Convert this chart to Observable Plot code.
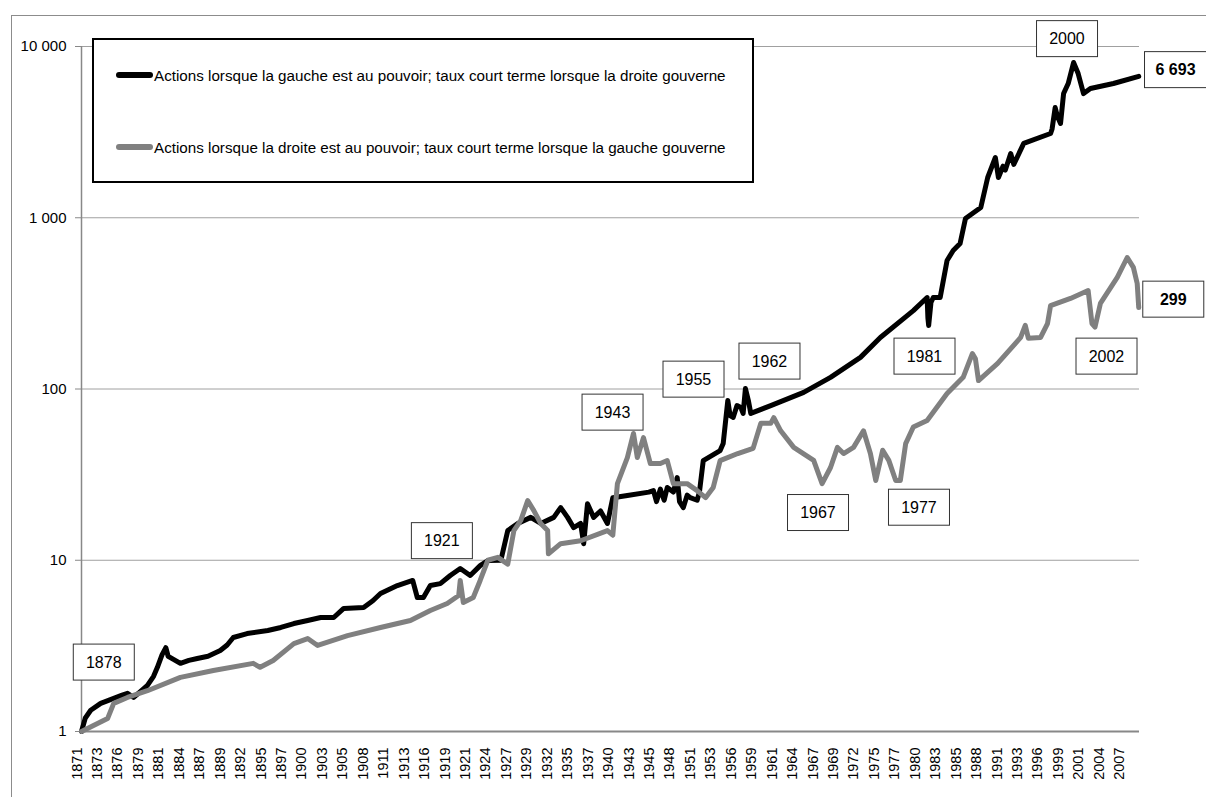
<!DOCTYPE html>
<html><head><meta charset="utf-8">
<script src="https://cdn.jsdelivr.net/npm/d3@7"></script>
<script src="https://cdn.jsdelivr.net/npm/@observablehq/plot@0.6"></script>
<style>
body{margin:0;background:#fff;font-family:"Liberation Sans",Arial,sans-serif;}
#wrap{position:relative;width:1206px;height:797px;overflow:hidden;background:#fff;}
#chart{position:absolute;left:0;top:0;}
#frame{position:absolute;left:11px;top:15px;width:1300px;height:900px;border:1px solid #8c8c8c;pointer-events:none;}
#legend{position:absolute;left:92px;top:38px;width:658px;height:141px;border:2px solid #000;background:#fff;}
.item{position:absolute;left:22px;height:20px;display:flex;align-items:center;font-size:15.2px;color:#000;white-space:nowrap;}
.swatch{width:37px;height:6px;border-radius:3px;margin-right:1px;}
</style></head>
<body>
<div id="wrap"><div id="chart"></div><div id="frame"></div><div id="legend"></div></div>
<script>
// ---- data ----
const seriesNames = [
  "Actions lorsque la gauche est au pouvoir; taux court terme lorsque la droite gouverne",
  "Actions lorsque la droite est au pouvoir; taux court terme lorsque la gauche gouverne"
];
const seriesColors = ["#000000", "#808080"];

// [year, value]
const blackSeries = [
[1871.0,1.0],[1871.5,1.2],[1872.2,1.33],[1873.5,1.46],[1875.2,1.56],[1876.3,1.63],[1877.0,1.67],[1877.8,1.58],
[1878.6,1.7],[1879.6,1.86],[1880.4,2.1],[1880.9,2.37],[1881.5,2.8],[1882.0,3.09],[1882.3,2.75],[1882.6,2.7],
[1883.9,2.5],[1885.0,2.6],[1886.1,2.67],[1887.5,2.75],[1889.1,2.97],[1890.0,3.2],[1890.8,3.54],[1892.6,3.73],
[1895.3,3.89],[1897.0,4.05],[1898.7,4.27],[1900.5,4.45],[1902.2,4.63],[1903.9,4.63],[1905.2,5.23],[1907.8,5.3],
[1909.0,5.8],[1910.0,6.4],[1912.2,7.12],[1914.2,7.62],[1914.8,6.06],[1915.6,6.06],[1916.5,7.12],[1917.8,7.3],
[1919.1,8.15],[1920.4,8.95],[1921.7,8.15],[1923.0,9.3],[1924.0,9.97],[1925.7,10.0],[1926.6,14.9],[1927.9,16.4],
[1929.6,17.8],[1930.9,16.4],[1932.6,17.8],[1933.5,20.3],[1934.4,17.8],[1935.2,15.5],[1936.1,16.4],[1936.5,12.5],
[1937.0,21.4],[1937.8,17.8],[1938.7,19.4],[1939.6,16.4],[1940.3,23.2],[1942.2,23.9],[1945.0,25],[1945.6,25.5],
[1946.0,22],[1946.5,26],[1947.0,22.4],[1947.4,26.6],[1948.2,25],[1948.7,30.4],[1949.0,22],[1949.5,20.3],
[1950.0,24],[1950.4,23.2],[1951.3,22.4],[1951.6,25],[1952.1,38.2],[1954.3,43.7],[1954.7,48],[1955.3,85.7],
[1955.6,70],[1956.0,68.2],[1956.5,80],[1957.0,78],[1957.3,72],[1957.6,100.7],[1958.0,85],[1958.3,72],
[1960.9,80],[1965.2,95.5],[1968.7,117],[1972.6,153],[1975.2,200],[1979.5,287],[1981.3,342],[1981.4,260],
[1981.5,235],[1981.8,320],[1982.1,342],[1983.0,342],[1983.9,563],[1984.7,644],[1985.6,707],[1986.3,990],
[1988.3,1148],[1989.2,1718],[1990.2,2248],[1990.6,1718],[1991.2,2000],[1991.5,1900],[1992.2,2371],[1992.6,2050],
[1993.9,2716],[1997.4,3105],[1997.6,3300],[1998.0,4400],[1998.3,3900],[1998.7,3550],[1999.1,5310],[1999.7,6080],
[2000.4,8060],[2001.0,6950],[2001.7,5310],[2002.6,5690],[2005.6,6080],[2008.9,6693]
];
const graySeries = [
[1871.0,1.0],[1872.5,1.08],[1874.4,1.19],[1875.2,1.46],[1877.0,1.58],[1879.6,1.73],[1883.9,2.07],[1888.2,2.27],
[1893.4,2.5],[1894.3,2.37],[1896.0,2.6],[1898.7,3.26],[1900.5,3.49],[1901.8,3.18],[1905.7,3.63],[1910.0,4.05],
[1913.9,4.45],[1916.5,5.09],[1918.7,5.59],[1920.2,6.22],[1920.4,7.62],[1920.8,5.67],[1922.1,6.06],[1923.0,7.62],
[1924.0,10],[1925.3,10.4],[1926.6,9.5],[1927.4,14.9],[1928.3,17.1],[1929.2,22.3],[1930.0,19.5],[1930.9,16.4],
[1931.8,14.9],[1931.9,10.9],[1933.5,12.5],[1936.1,13],[1939.6,14.9],[1940.3,14],[1940.9,28],[1942.2,39.8],
[1943.0,55],[1943.5,39.8],[1944.3,52],[1945.2,36.7],[1946.5,36.7],[1947.4,38.2],[1948.2,28],[1950.0,28],
[1951.3,25.5],[1952.4,23.2],[1953.4,26.6],[1954.3,38.2],[1956.6,42],[1958.6,45],[1959.6,63],[1960.9,63],
[1961.3,68],[1962.2,57],[1963.9,45.6],[1966.5,38.3],[1967.6,28],[1968.7,34.8],[1969.6,45.6],[1970.4,42],
[1971.7,45.6],[1973.0,57],[1973.9,42],[1974.6,29.2],[1975.5,43.9],[1976.3,38.3],[1977.2,29.2],[1977.8,29.2],
[1978.5,48],[1979.5,60],[1981.3,65.5],[1983.9,94],[1986.0,117],[1987.2,161],[1987.6,150],[1988.0,112],
[1990.5,141],[1993.5,200],[1994.1,235],[1994.5,198],[1996.1,200],[1997.0,241],[1997.4,307],[2000.0,338],
[2002.3,376],[2002.8,241],[2003.2,230],[2003.9,316],[2006.1,448],[2007.4,586],[2008.2,513],[2008.7,413],
[2008.9,299]
];

const xTickLabels = ["1871","1873","1876","1879","1881","1884","1887","1889","1892","1895","1897","1900","1903",
"1905","1908","1911","1913","1916","1919","1921","1924","1927","1929","1932","1935","1937","1940","1943","1945",
"1948","1951","1953","1956","1959","1961","1964","1967","1969","1972","1975","1977","1980","1983","1985","1988",
"1991","1993","1996","1999","2001","2004","2007"];
const yTicks = [1, 10, 100, 1000, 10000];

// annotation boxes: label, anchor year, anchor value, bold
const annotLabels = ["1878","1921","1943","1955","1962","1967","1977","1981","2002","2000","299","6 693"];
const annotYears  = [1873.9,1918.0,1940.26,1950.82,1960.73,1967.06,1980.23,1980.95,2004.69,1999.54,2013.4,2013.7];
const annotValues = [2.53,12.95,72.9,113.6,144.8,18.9,20.3,154.8,154.8,11060,333,7290];
const annotBold   = [false,false,false,false,false,false,false,false,false,false,true,true];

// ---- build ----
const tickRows = xTickLabels.map((label, i) => ({x: 1871 + i * 32 / 12, label}));
const fmt = d => d3.format(",")(d).replace(/,/g, " ");
const lineRows = (arr, s) => arr.map(([year, value]) => ({year, value, s}));
const annots = annotLabels.map((label, i) => ({label, year: annotYears[i], value: annotValues[i], bold: annotBold[i]}));

const chart = Plot.plot({
  width: 1206, height: 797,
  marginLeft: 81, marginRight: 67, marginTop: 46, marginBottom: 66,
  style: {background: "transparent", fontFamily: "'Liberation Sans', Arial, sans-serif", color: "#000"},
  x: {domain: [1871, 2009], label: null, axis: null},
  y: {type: "log", domain: [1, 10000], label: null},
  marks: [
    Plot.ruleY([10, 100, 1000, 10000], {stroke: "#a0a0a0", strokeWidth: 1}),
    Plot.ruleX([1871], {stroke: "#888", strokeWidth: 1.5}),
    Plot.ruleY([1], {stroke: "#888", strokeWidth: 2}),
    Plot.axisY({ticks: yTicks, tickFormat: fmt, tickSize: 6, tickPadding: 9, fontSize: 15, stroke: "#888", fill: "#000", label: null}),
    Plot.text(tickRows, {x: "x", text: "label", frameAnchor: "bottom", rotate: -90, textAnchor: "end", dy: 16, fontSize: 14.5, fill: "#000", ariaLabel: null}),
    Plot.line(lineRows(blackSeries, 0), {x: "year", y: "value", stroke: seriesColors[0], strokeWidth: 5, strokeLinejoin: "round", strokeLinecap: "round"}),
    Plot.line(lineRows(graySeries, 1), {x: "year", y: "value", stroke: seriesColors[1], strokeWidth: 5, strokeLinejoin: "round", strokeLinecap: "round"}),
    Plot.text(annots.filter(d => !d.bold), {x: "year", y: "value", text: "label", fontSize: 16, fill: "#000", clip: false}),
    Plot.text(annots.filter(d => d.bold), {x: "year", y: "value", text: "label", fontSize: 16, fontWeight: "bold", fill: "#000", clip: false})
  ]
});
document.getElementById("chart").appendChild(chart);

// boxes around annotation labels (the last two text groups)
const textGroups = Array.from(chart.querySelectorAll('g[aria-label="text"]')).slice(-2);
textGroups.forEach(g => g.querySelectorAll("text").forEach(t => {
  const b = t.getBBox();
  const r = document.createElementNS("http://www.w3.org/2000/svg", "rect");
  const w = Math.max(61, b.width + 22), h = 36;
  r.setAttribute("x", b.x + b.width / 2 - w / 2);
  r.setAttribute("y", b.y + b.height / 2 - h / 2);
  r.setAttribute("width", w);
  r.setAttribute("height", h);
  r.setAttribute("fill", "#fff");
  r.setAttribute("stroke", "#333");
  r.setAttribute("stroke-width", 1);
  if (t.getAttribute("transform")) r.setAttribute("transform", t.getAttribute("transform"));
  t.parentNode.insertBefore(r, t);
}));

// legend
const legend = document.getElementById("legend");
seriesNames.forEach((name, i) => {
  const it = document.createElement("div");
  it.className = "item";
  it.style.top = (i === 0 ? 25 : 97) + "px";
  const sw = document.createElement("div");
  sw.className = "swatch";
  sw.style.background = seriesColors[i];
  it.appendChild(sw);
  const tx = document.createElement("span");
  tx.textContent = name;
  it.appendChild(tx);
  legend.appendChild(it);
});
</script>
</body></html>
